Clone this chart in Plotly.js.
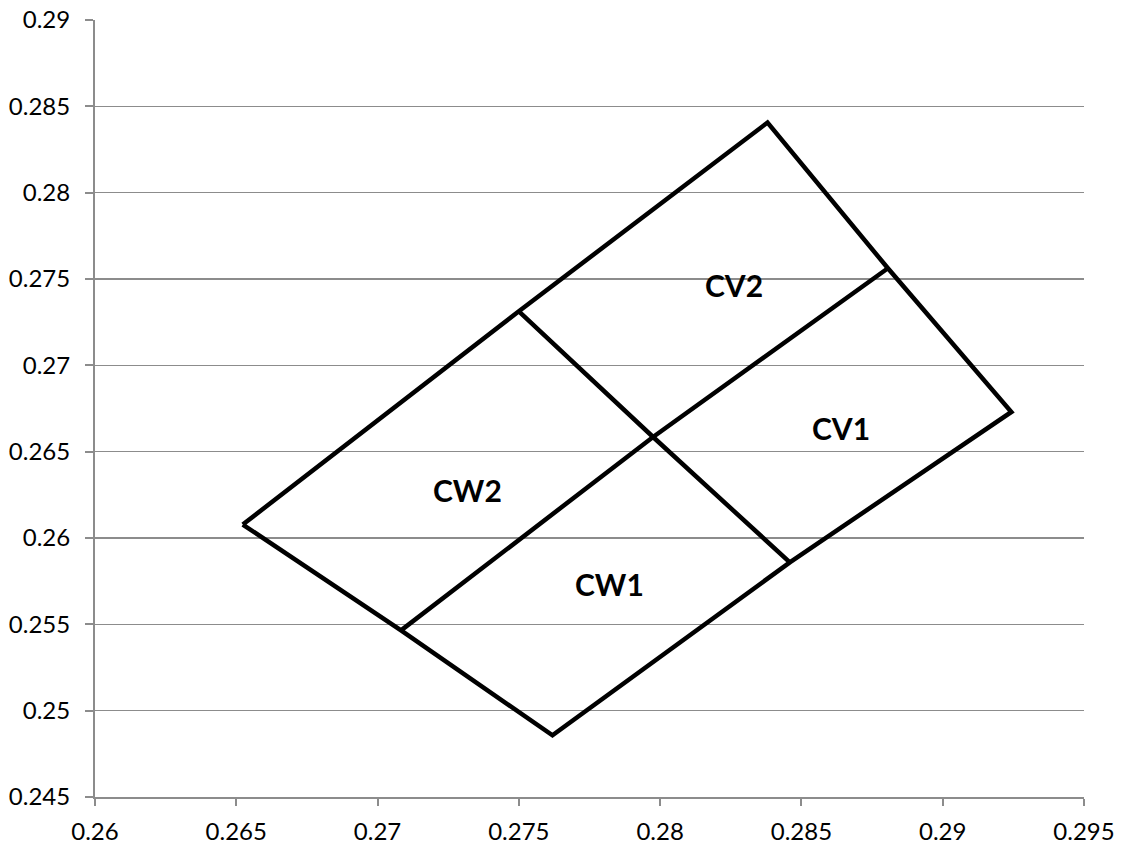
<!DOCTYPE html>
<html>
<head>
<meta charset="utf-8">
<script src="https://cdn.plot.ly/plotly-3.0.1.min.js"></script>
<style>html,body{margin:0;padding:0;background:#fff;}#chart{width:1121px;height:846px;}</style>
</head>
<body>
<div id="chart"></div>
<script>
// Outer boundary of the chromaticity region
const outlineX = [0.26523, 0.27500, 0.28380, 0.28806, 0.29243, 0.28459, 0.27619, 0.27083, 0.26523];
const outlineY = [0.26078, 0.27313, 0.28406, 0.27562, 0.26730, 0.25859, 0.24857, 0.25465, 0.26078];
// Inner dividing lines
const divider1X = [0.27500, 0.27975, 0.28459];
const divider1Y = [0.27313, 0.26585, 0.25859];
const divider2X = [0.27083, 0.27975, 0.28806];
const divider2Y = [0.25465, 0.26585, 0.27562];
// Region labels
const labelText = ["CV2", "CV1", "CW2", "CW1"];
const labelX = [0.28261, 0.28639, 0.27320, 0.27822];
const labelY = [0.27464, 0.26635, 0.26276, 0.25732];

const lineStyle = {color: '#000000', width: 4.5};
const traces = [
  {x: outlineX, y: outlineY, mode: 'lines', line: lineStyle, hoverinfo: 'skip'},
  {x: divider1X, y: divider1Y, mode: 'lines', line: lineStyle, hoverinfo: 'skip'},
  {x: divider2X, y: divider2Y, mode: 'lines', line: lineStyle, hoverinfo: 'skip'}
];

const annotations = labelText.map((t, i) => ({
  x: labelX[i], y: labelY[i], xref: 'x', yref: 'y', text: '<b>' + t + '</b>',
  showarrow: false, font: {family: 'Lato, "Open Sans", sans-serif', size: 30, color: '#000'}
}));

const tickFont = {family: 'Lato, "Open Sans", sans-serif', size: 24, color: '#000'};
const layout = {
  width: 1121, height: 846,
  margin: {l: 95, r: 36.5, t: 19.7, b: 49.3},
  paper_bgcolor: '#fff', plot_bgcolor: '#fff',
  showlegend: false,
  xaxis: {
    range: [0.26, 0.295], dtick: 0.005, tick0: 0.26,
    showgrid: false, zeroline: false,
    showline: true, linecolor: '#8c8c8c', linewidth: 2,
    ticks: 'outside', ticklen: 7, tickwidth: 2, tickcolor: '#8c8c8c',
    tickfont: tickFont, ticklabelstandoff: 5
  },
  yaxis: {
    range: [0.245, 0.29], dtick: 0.005, tick0: 0.245,
    showgrid: true, gridcolor: '#8c8c8c', gridwidth: 1.5, zeroline: false,
    showline: true, linecolor: '#8c8c8c', linewidth: 2,
    ticks: 'outside', ticklen: 8, tickwidth: 2, tickcolor: '#8c8c8c',
    tickfont: tickFont, ticklabelstandoff: 10
  },
  annotations: annotations
};

Plotly.newPlot('chart', traces, layout, {displayModeBar: false, staticPlot: true});
</script>
</body>
</html>
